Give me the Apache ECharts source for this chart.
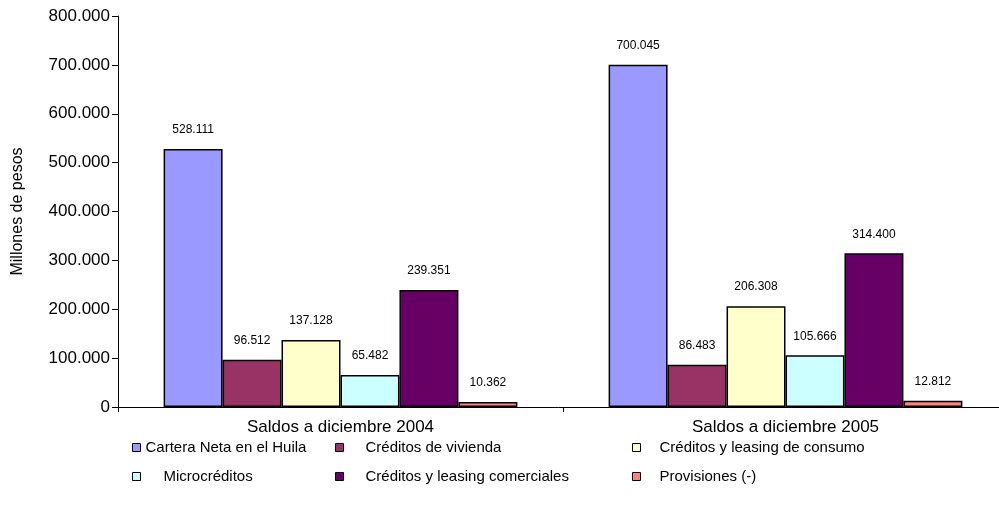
<!DOCTYPE html>
<html>
<head>
<meta charset="utf-8">
<script src="https://cdn.jsdelivr.net/npm/echarts@6/dist/echarts.min.js"></script>
<style>
  html, body { margin: 0; padding: 0; background: #fff; }
  #chart { width: 999px; height: 520px; }
</style>
</head>
<body>
<div id="chart"></div>
<script>
// datos
const categorias = ['Saldos a diciembre 2004', 'Saldos a diciembre 2005'];
const series_nombres = [
  'Cartera Neta en el Huila',
  'Créditos de vivienda',
  'Créditos y leasing de consumo',
  'Microcréditos',
  'Créditos y leasing comerciales',
  'Provisiones (-)'
];
const carteraNeta = [528111, 700045];
const vivienda = [96512, 86483];
const consumo = [137128, 206308];
const microcreditos = [65482, 105666];
const comerciales = [239351, 314400];
const provisiones = [10362, 12812];

const colores = ['#9999FF', '#993366', '#FFFFCC', '#CCFFFF', '#660066', '#FF8080'];
const valores = [carteraNeta, vivienda, consumo, microcreditos, comerciales, provisiones];

const font = 'Arial, "Liberation Sans", sans-serif';

// separador de miles con punto
const fmt = v => String(Math.round(v)).replace(/\B(?=(\d{3})+(?!\d))/g, '.');

const chart = echarts.init(document.getElementById('chart'));

// posiciones de la leyenda (icono x, y, espacio extra hasta el texto)
const leyendaPos = [
  { left: 132, top: 440, gap: 0 },
  { left: 335, top: 440, gap: 17 },
  { left: 632, top: 440, gap: 14 },
  { left: 132, top: 469, gap: 18 },
  { left: 335, top: 469, gap: 17 },
  { left: 632, top: 469, gap: 14 }
];

chart.setOption({
  animation: false,
  textStyle: { fontFamily: font },
  grid: { left: 118, top: 16, width: 890, bottom: 113, outerBoundsMode: 'none', containLabel: false },
  legend: leyendaPos.map((p, i) => ({
    data: [series_nombres[i]],
    left: p.left,
    top: p.top,
    padding: 0,
    itemWidth: 8,
    itemHeight: 8,
    icon: 'rect',
    itemStyle: { borderColor: '#000', borderWidth: 1 },
    textStyle: { fontSize: 15, color: '#000', fontFamily: font, padding: [0, 0, 0, p.gap] }
  })),
  xAxis: {
    type: 'category',
    data: categorias,
    axisLine: { lineStyle: { color: '#000', width: 1 } },
    axisTick: { show: true, length: 5, lineStyle: { color: '#000' } },
    axisLabel: { fontSize: 17, color: '#000', margin: 12, fontFamily: font }
  },
  yAxis: {
    type: 'value',
    min: 0,
    max: 800000,
    interval: 100000,
    name: 'Millones de pesos',
    nameLocation: 'middle',
    nameGap: 92,
    nameTextStyle: { fontSize: 16, color: '#000', fontFamily: font },
    axisLine: { show: true, lineStyle: { color: '#000', width: 1 } },
    axisTick: { show: true, length: 6, lineStyle: { color: '#000' } },
    splitLine: { show: false },
    axisLabel: { fontSize: 17, color: '#000', margin: 8, fontFamily: font, formatter: fmt }
  },
  series: series_nombres.map((nombre, i) => ({
    name: nombre,
    type: 'bar',
    data: valores[i],
    barGap: '0%',
    barCategoryGap: '20.5%',
    itemStyle: { color: colores[i], borderColor: '#000', borderWidth: 1.5 },
    label: {
      show: true,
      position: 'top',
      distance: 13,
      fontSize: 12,
      color: '#000',
      fontFamily: font,
      formatter: p => fmt(p.value)
    }
  }))
});
</script>
</body>
</html>
